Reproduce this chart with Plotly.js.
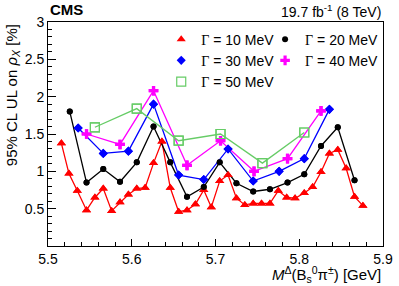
<!DOCTYPE html>
<html>
<head>
<meta charset="utf-8">
<script src="https://cdn.plot.ly/plotly-3.0.1.min.js"></script>
<style>html,body{margin:0;padding:0;background:#fff;}#chart{width:399px;height:286px;}</style>
</head>
<body>
<div id="chart"></div>
<script>
// Γ = 10 MeV
const x10 = [5.516,5.525,5.535,5.546,5.556,5.566,5.576,5.586,5.596,5.606,5.616,5.626,5.636,5.646,5.656,5.666,5.676,5.686,5.695,5.705,5.715,5.725,5.735,5.745,5.755,5.765,5.775,5.785,5.795,5.806,5.816,5.826,5.836,5.846,5.856,5.866,5.876];
const y10 = [1.375,0.97,0.74,0.48,0.65,0.77,0.47,0.585,0.69,0.77,0.78,1.11,1.40,0.78,0.46,0.48,0.56,0.75,0.52,0.87,0.95,0.64,0.55,0.57,0.57,0.57,0.74,0.65,0.64,0.71,0.79,0.99,1.24,1.29,1.04,0.66,0.54];
// Γ = 20 MeV
const x20 = [5.526,5.546,5.566,5.586,5.606,5.626,5.646,5.666,5.686,5.705,5.725,5.745,5.765,5.786,5.806,5.826,5.846,5.866];
const y20 = [1.80,0.85,1.03,0.86,1.12,1.60,1.12,0.66,0.79,1.12,0.84,0.73,0.76,0.85,0.96,1.34,1.59,0.88];
// Γ = 30 MeV
const x30 = [5.536,5.566,5.596,5.626,5.656,5.686,5.715,5.745,5.776,5.806,5.836];
const y30 = [1.58,1.24,1.27,1.90,0.95,0.89,1.30,0.87,1.00,1.17,1.83];
// Γ = 40 MeV
const x40 = [5.546,5.586,5.626,5.666,5.706,5.746,5.786,5.826];
const y40 = [1.50,1.36,2.08,1.08,1.41,1.00,1.17,1.81];
// Γ = 50 MeV
const x50 = [5.556,5.606,5.656,5.706,5.756,5.806];
const y50 = [1.59,1.84,1.41,1.50,1.11,1.52];

const xTicks = [5.5,5.6,5.7,5.8,5.9];
const yTicks = [0.5,1,1.5,2,2.5,3];
const names = ['10','20','30','40','50'];

const FONT = 'Liberation Sans, Arial, Helvetica, sans-serif';
const G = "<span style='font-family:Liberation Serif, Times New Roman, serif'>Γ</span>";

const series = [
  {x:x10, y:y10, color:'#ff0000', symbol:'triangle-up', size:8, legend:'legend'},
  {x:x20, y:y20, color:'#000000', symbol:'circle', size:6, legend:'legend2'},
  {x:x30, y:y30, color:'#0000ff', symbol:'diamond', size:7, legend:'legend'},
  {x:x40, y:y40, color:'#ff00ff', symbol:'cross', size:8, legend:'legend2'},
  {x:x50, y:y50, color:'#66cc66', symbol:'square-open', size:9, legend:'legend'}
];

const traces = [];
series.forEach((s, i) => {
  traces.push({
    x: s.x, y: s.y, type:'scatter', mode:'lines+markers', showlegend:false,
    line:{color:s.color, width:1.3},
    marker:{color:s.color, symbol:s.symbol, size:s.size, line:{color:s.color, width: s.symbol==='square-open'?1.2:0}},
    hoverinfo:'skip'
  });
});
series.forEach((s, i) => {
  traces.push({
    x: s.x, y: s.y, type:'scatter', mode:'markers', showlegend:true, legend:s.legend,
    name: G + ' = ' + names[i] + ' MeV',
    marker:{color:s.color, symbol:s.symbol, size:s.size, line:{color:s.color, width: s.symbol==='square-open'?1.2:0}},
    hoverinfo:'skip'
  });
});

const layout = {
  width:399, height:286,
  margin:{l:48, r:16, t:22, b:40, pad:0},
  paper_bgcolor:'#ffffff', plot_bgcolor:'#ffffff',
  font:{family:FONT, size:14, color:'#000'},
  showlegend:true,
  legend:{x:0.338, y:0.993, xanchor:'left', yanchor:'top', orientation:'v', bgcolor:'rgba(0,0,0,0)', font:{family:FONT, size:14, color:'#000'}, traceorder:'normal'},
  legend2:{x:0.648, y:0.993, xanchor:'left', yanchor:'top', orientation:'v', bgcolor:'rgba(0,0,0,0)', font:{family:FONT, size:14, color:'#000'}, traceorder:'normal'},
  xaxis:{
    range:[5.5,5.9], tickvals:xTicks, ticktext:xTicks.map(v=>v.toFixed(1)),
    ticks:'inside', ticklen:7, tickwidth:1, tickcolor:'#000',
    minor:{dtick:0.02, tick0:5.5, ticks:'inside', ticklen:4, tickcolor:'#000', showgrid:false},
    showline:true, linecolor:'#000', linewidth:1, mirror:true,
    showgrid:false, zeroline:false, tickfont:{family:FONT, size:14}
  },
  yaxis:{
    range:[0,3], tickvals:yTicks, ticktext:yTicks.map(v=>String(v)),
    ticks:'inside', ticklen:8, tickwidth:1, tickcolor:'#000',
    minor:{dtick:0.1, tick0:0, ticks:'inside', ticklen:4, tickcolor:'#000', showgrid:false},
    showline:true, linecolor:'#000', linewidth:1, mirror:true,
    showgrid:false, zeroline:false, tickfont:{family:FONT, size:14}
  },
  annotations:[
    {text:'<b>CMS</b>', xref:'paper', yref:'paper', x:0, y:1.054, xanchor:'left', yanchor:'middle', showarrow:false, font:{family:FONT, size:15, color:'#000'}},
    {text:'19.7 fb<sup>-1</sup> (8 TeV)', xref:'paper', yref:'paper', x:1, y:1.05, xanchor:'right', yanchor:'middle', showarrow:false, font:{family:FONT, size:14, color:'#000'}},
    {text:'<i>M</i><sup>Δ</sup>(B<sub>s</sub><sup>0</sup>π<sup>±</sup>) [GeV]', xref:'paper', yref:'paper', x:1, y:-0.125, xanchor:'right', yanchor:'middle', showarrow:false, font:{family:FONT, size:15, color:'#000'}},
    {text:'95% CL UL on <i>ρ</i><sub><i>X</i></sub> [%]', xref:'paper', yref:'paper', x:-0.107, y:1.0, xanchor:'center', yanchor:'top', textangle:-90, showarrow:false, font:{family:FONT, size:15, color:'#000'}}
  ]
};

Plotly.newPlot('chart', traces, layout, {staticPlot:true, displayModeBar:false});
</script>
</body>
</html>
